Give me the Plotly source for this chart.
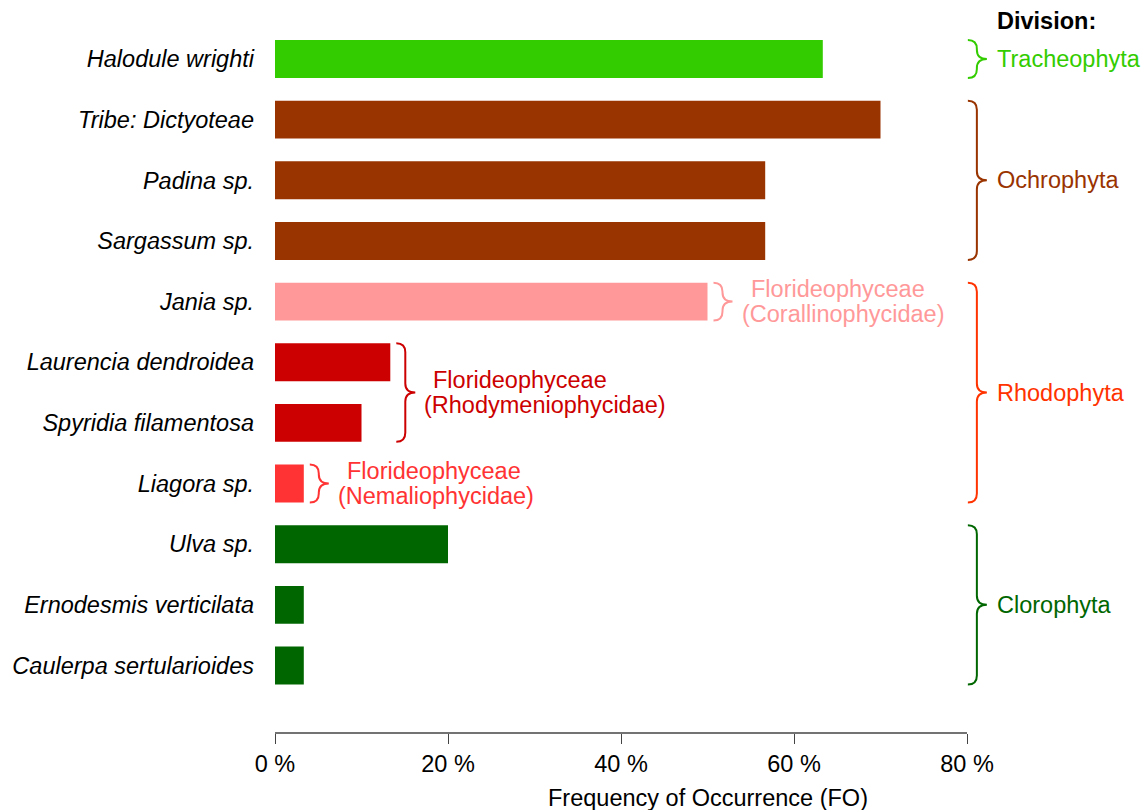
import plotly.graph_objects as go

# ---------------- data ----------------
species = ["Halodule wrighti", "Tribe: Dictyoteae", "Padina sp.", "Sargassum sp.",
           "Jania sp.", "Laurencia dendroidea", "Spyridia filamentosa", "Liagora sp.",
           "Ulva sp.", "Ernodesmis verticilata", "Caulerpa sertularioides"]
fo_percent = [63.33, 70.0, 56.67, 56.67, 50.0, 13.33, 10.0, 3.33, 20.0, 3.33, 3.33]
bar_colors = ["#33CC00", "#993300", "#993300", "#993300", "#FF9999", "#CC0000",
              "#CC0000", "#FF3333", "#006600", "#006600", "#006600"]

division_names = ["Tracheophyta", "Ochrophyta", "Rhodophyta", "Clorophyta"]
division_first = [0, 1, 4, 8]
division_last = [0, 3, 7, 10]
division_colors = ["#33CC00", "#993300", "#FF3300", "#006600"]

subclass_line1 = ["Florideophyceae", "Florideophyceae", "Florideophyceae"]
subclass_line2 = ["(Corallinophycidae)", "(Rhodymeniophycidae)", "(Nemaliophycidae)"]
subclass_first = [4, 5, 7]
subclass_last = [4, 6, 7]
subclass_colors = ["#FF9999", "#CC0000", "#FF3333"]

x_ticks = [0, 20, 40, 60, 80]
x_tick_labels = ["0 %", "20 %", "40 %", "60 %", "80 %"]

# ---------------- layout constants ----------------
W, H = 1146, 810
ML, MR, MT, MB = 275, 0, 12, 77
PX_PER_PCT = 8.65
X_MAX = (W - ML - MR) / PX_PER_PCT
BAR_W = 0.625
Y_RANGE = [11.113, -0.775]
PX_PER_UNIT = (H - MT - MB) / (Y_RANGE[0] - Y_RANGE[1])
FONT = "Liberation Sans, Arial, sans-serif"
FS = 23.5

def px2x(p):
    return p / PX_PER_PCT

def px2y(p):
    return p / PX_PER_UNIT

ypos = list(range(len(species)))

fig = go.Figure()
fig.add_trace(go.Bar(
    x=fo_percent, y=ypos, orientation="h", width=BAR_W,
    marker=dict(color=bar_colors, line=dict(width=0)),
    hoverinfo="skip", showlegend=False,
))

def brace_path(xl, top, bot, width_px=19, stem_px=9, r_px=9):
    xs = xl + px2x(stem_px)
    xt = xl + px2x(width_px)
    r = px2y(r_px)
    mid = (top + bot) / 2
    return (f"M {xl},{top} Q {xs},{top} {xs},{top + r} "
            f"L {xs},{mid - r} Q {xs},{mid} {xt},{mid} "
            f"Q {xs},{mid} {xs},{mid + r} L {xs},{bot - r} "
            f"Q {xs},{bot} {xl},{bot}")

shapes = []
annotations = []

# division braces + labels
div_x = 80.1
for name, a, b, col in zip(division_names, division_first, division_last, division_colors):
    top = a - BAR_W / 2
    bot = b + BAR_W / 2
    shapes.append(dict(type="path", xref="x", yref="y", path=brace_path(div_x, top, bot),
                       line=dict(color=col, width=2)))
    annotations.append(dict(x=div_x + px2x(27), y=(top + bot) / 2, xref="x", yref="y",
                            text=name, showarrow=False, xanchor="left", yanchor="middle",
                            font=dict(family=FONT, size=FS, color=col)))

annotations.append(dict(x=div_x + px2x(27), y=Y_RANGE[1] + px2y(9), xref="x", yref="y",
                        text="<b>Division:</b>", showarrow=False, xanchor="left",
                        yanchor="middle", font=dict(family=FONT, size=FS, color="black")))

# subclass braces + labels
for l1, l2, a, b, col in zip(subclass_line1, subclass_line2, subclass_first,
                             subclass_last, subclass_colors):
    top = a - BAR_W / 2
    bot = b + BAR_W / 2
    xl = max(fo_percent[a:b + 1]) + px2x(6)
    shapes.append(dict(type="path", xref="x", yref="y", path=brace_path(xl, top, bot),
                       line=dict(color=col, width=2)))
    mid = (top + bot) / 2
    for txt, dy, dx in ((l1, -12.5, 35), (l2, 12.5, 26)):
        annotations.append(dict(x=xl + px2x(dx), y=mid + px2y(dy), xref="x", yref="y",
                                text=txt, showarrow=False, xanchor="left",
                                yanchor="middle",
                                font=dict(family=FONT, size=FS, color=col)))

# x axis line only from 0 to 80
shapes.append(dict(type="line", xref="x", yref="paper", x0=x_ticks[0], x1=x_ticks[-1],
                   y0=0, y1=0, line=dict(color="#444444", width=1.3)))

annotations.append(dict(x=(x_ticks[0] + X_MAX) / 2 - px2x(3), y=0, xref="x", yref="paper",
                        yshift=-65, text="Frequency of Occurrence (FO)", showarrow=False,
                        xanchor="center", yanchor="middle",
                        font=dict(family=FONT, size=FS, color="black")))

fig.update_layout(
    width=W, height=H,
    margin=dict(l=ML, r=MR, t=MT, b=MB, pad=0),
    plot_bgcolor="white", paper_bgcolor="white",
    shapes=shapes, annotations=annotations,
    xaxis=dict(range=[0, X_MAX], tickvals=x_ticks, ticktext=x_tick_labels,
               ticks="outside", ticklen=10, tickwidth=1.3, tickcolor="#444444",
               showline=False, showgrid=False, zeroline=False,
               tickfont=dict(family=FONT, size=FS, color="black")),
    yaxis=dict(range=Y_RANGE, tickvals=ypos, ticktext=[f"<i>{s}</i>" for s in species],
               ticks="", ticklabelstandoff=20, showline=False, showgrid=False,
               zeroline=False, tickfont=dict(family=FONT, size=FS, color="black")),
)

fig.write_html("out.html")
